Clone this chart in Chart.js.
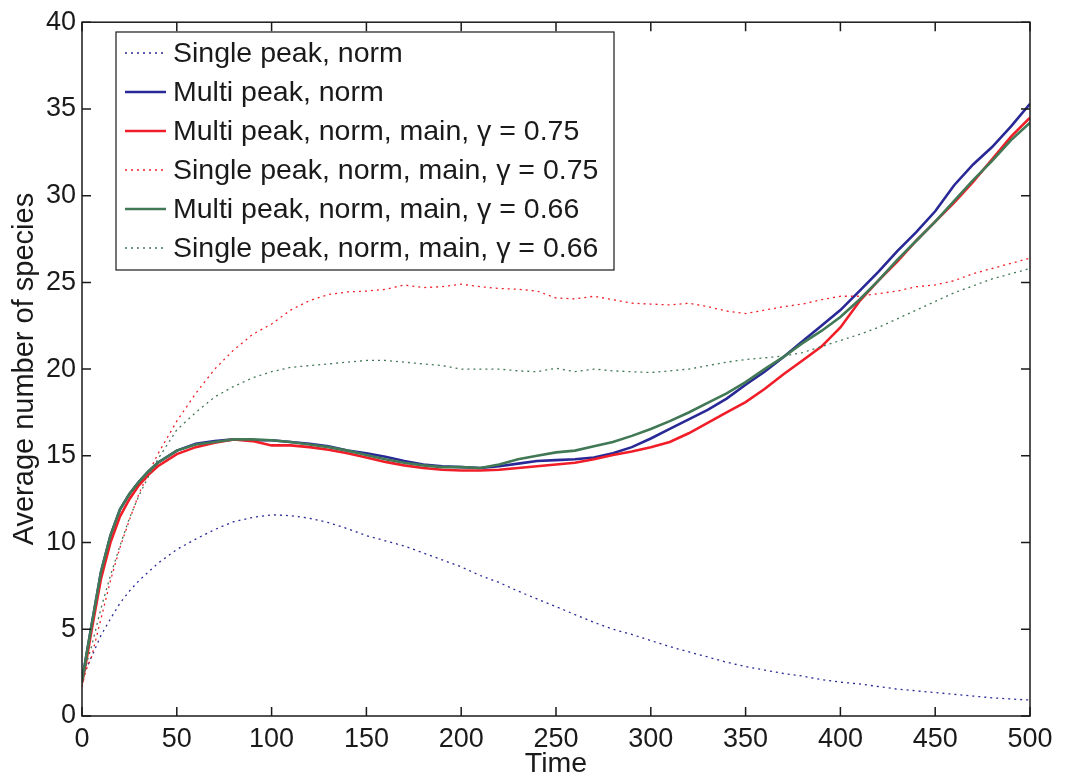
<!DOCTYPE html>
<html>
<head>
<meta charset="utf-8">
<script src="https://cdn.jsdelivr.net/npm/chart.js@4"></script>
<style>
  body { margin: 0; background: #fff; }
  #wrap { width: 1065px; height: 780px; }
</style>
</head>
<body>
<div id="wrap"><canvas id="speciesChart"></canvas></div>
<script>
// time points (x values)
const times = [0, 2, 5, 10, 15, 20, 25, 30, 35, 40, 50, 60, 70, 80, 90, 100, 110, 120, 130, 140, 150,
  160, 170, 180, 190, 200, 210, 220, 230, 240, 250, 260, 270, 280, 290, 300, 310, 320, 330, 340, 350,
  360, 370, 380, 390, 400, 410, 420, 430, 440, 450, 460, 470, 480, 490, 500];

// average number of species
const singleNorm = [2.0, 2.7, 3.4, 4.65, 5.6, 6.5, 7.2, 7.8, 8.3, 8.8, 9.6, 10.2, 10.75, 11.2, 11.45, 11.6,
  11.55, 11.4, 11.15, 10.8, 10.4, 10.1, 9.8, 9.4, 9.0, 8.6, 8.1, 7.7, 7.2, 6.75, 6.3, 5.85, 5.4, 5.0, 4.7,
  4.35, 4.0, 3.7, 3.4, 3.1, 2.85, 2.65, 2.45, 2.3, 2.1, 1.95, 1.85, 1.7, 1.55, 1.45, 1.35, 1.25, 1.15,
  1.05, 0.98, 0.92];
const multiNorm = [2.0, 3.3, 5.2, 8.3, 10.4, 11.9, 12.8, 13.5, 14.1, 14.6, 15.3, 15.7, 15.85, 15.95, 15.9,
  15.9, 15.8, 15.7, 15.55, 15.3, 15.15, 14.95, 14.7, 14.5, 14.4, 14.35, 14.3, 14.4, 14.55, 14.7, 14.75,
  14.8, 14.9, 15.15, 15.5, 16.0, 16.55, 17.1, 17.65, 18.3, 19.1, 19.85, 20.7, 21.6, 22.5, 23.4, 24.5,
  25.6, 26.8, 27.9, 29.1, 30.6, 31.8, 32.8, 34.0, 35.3];
const multiMain75 = [1.9, 3.0, 4.9, 7.9, 10.0, 11.5, 12.5, 13.3, 13.9, 14.4, 15.1, 15.5, 15.75, 15.95,
  15.85, 15.6, 15.6, 15.5, 15.35, 15.15, 14.9, 14.65, 14.45, 14.3, 14.2, 14.15, 14.15, 14.2, 14.3, 14.4,
  14.5, 14.6, 14.8, 15.05, 15.25, 15.5, 15.8, 16.3, 16.9, 17.5, 18.1, 18.85, 19.7, 20.5, 21.3, 22.4,
  23.9, 25.1, 26.2, 27.4, 28.5, 29.6, 30.8, 32.1, 33.4, 34.5];
const singleMain75 = [1.7, 2.6, 3.4, 5.6, 7.8, 9.7, 11.3, 12.8, 14.0, 15.1, 17.0, 18.6, 20.0, 21.1, 22.0,
  22.6, 23.4, 23.95, 24.3, 24.45, 24.5, 24.6, 24.85, 24.7, 24.75, 24.9, 24.75, 24.65, 24.6, 24.5, 24.1,
  24.05, 24.2, 24.0, 23.8, 23.75, 23.7, 23.8, 23.6, 23.35, 23.2, 23.4, 23.6, 23.75, 24.0, 24.2, 24.2,
  24.35, 24.5, 24.75, 24.85, 25.1, 25.5, 25.8, 26.1, 26.4];
const multiMain66 = [2.0, 3.3, 5.2, 8.3, 10.4, 11.9, 12.8, 13.5, 14.1, 14.6, 15.3, 15.65, 15.8, 15.95,
  15.95, 15.9, 15.8, 15.65, 15.5, 15.3, 15.05, 14.8, 14.6, 14.45, 14.35, 14.35, 14.3, 14.5, 14.8, 15.0,
  15.2, 15.3, 15.55, 15.8, 16.15, 16.55, 17.0, 17.5, 18.05, 18.6, 19.25, 20.0, 20.7, 21.5, 22.2, 23.0,
  24.0, 25.1, 26.3, 27.4, 28.5, 29.7, 30.9, 32.0, 33.2, 34.2];
const singleMain66 = [1.9, 2.9, 4.0, 6.2, 8.1, 9.8, 11.4, 12.7, 13.8, 14.8, 16.5, 17.5, 18.4, 19.0, 19.5,
  19.85, 20.1, 20.2, 20.3, 20.4, 20.5, 20.5, 20.4, 20.3, 20.2, 20.0, 20.0, 20.0, 19.9, 19.85, 20.05,
  19.85, 20.0, 19.9, 19.85, 19.8, 19.9, 20.0, 20.2, 20.4, 20.55, 20.65, 20.75, 20.95, 21.3, 21.65, 22.0,
  22.4, 22.9, 23.4, 23.9, 24.4, 24.8, 25.2, 25.5, 25.8];

const seriesLabels = [
  'Single peak, norm',
  'Multi peak, norm',
  'Multi peak, norm, main, \u03b3 = 0.75',
  'Single peak, norm, main, \u03b3 = 0.75',
  'Multi peak, norm, main, \u03b3 = 0.66',
  'Single peak, norm, main, \u03b3 = 0.66'
];
const seriesValues = [singleNorm, multiNorm, multiMain75, singleMain75, multiMain66, singleMain66];

const xTicks = [0, 50, 100, 150, 200, 250, 300, 350, 400, 450, 500];
const yTicks = [0, 5, 10, 15, 20, 25, 30, 35, 40];

const BLUE = 'rgb(40, 40, 150)';
const RED = 'rgb(240, 30, 40)';
const GREEN = 'rgb(65, 120, 85)';
const colors = [BLUE, BLUE, RED, RED, GREEN, GREEN];
const dotted = [true, false, false, true, false, true];

const FONT = '"Liberation Sans", Arial, Helvetica, sans-serif';
const INK = '#1a1a1a';

// MATLAB style box with inward ticks and the legend
const matlabBox = {
  id: 'matlabBox',
  afterDraw(chart) {
    const { ctx, chartArea: a, scales: { x, y } } = chart;
    ctx.save();
    ctx.strokeStyle = INK;
    ctx.lineWidth = 1.5;
    ctx.strokeRect(a.left, a.top, a.right - a.left, a.bottom - a.top);
    ctx.beginPath();
    xTicks.forEach(v => {
      const px = x.getPixelForValue(v);
      ctx.moveTo(px, a.bottom); ctx.lineTo(px, a.bottom - 9);
      ctx.moveTo(px, a.top); ctx.lineTo(px, a.top + 9);
    });
    yTicks.forEach(v => {
      const py = y.getPixelForValue(v);
      ctx.moveTo(a.left, py); ctx.lineTo(a.left + 9, py);
      ctx.moveTo(a.right, py); ctx.lineTo(a.right - 9, py);
    });
    ctx.stroke();

    // legend
    const lx = 116, ly = 32, lw = 498, lh = 238;
    ctx.fillStyle = '#fff';
    ctx.fillRect(lx, ly, lw, lh);
    ctx.lineWidth = 1.2;
    ctx.strokeStyle = INK;
    ctx.strokeRect(lx, ly, lw, lh);
    ctx.font = '28.5px ' + FONT;
    ctx.textBaseline = 'middle';
    ctx.textAlign = 'left';
    chart.data.datasets.forEach((ds, i) => {
      const cy = 53 + i * 39;
      ctx.beginPath();
      ctx.strokeStyle = ds.borderColor;
      ctx.lineWidth = ds.borderWidth;
      ctx.setLineDash(ds.borderDash || []);
      ctx.moveTo(125, cy); ctx.lineTo(166, cy);
      ctx.stroke();
      ctx.setLineDash([]);
      ctx.fillStyle = INK;
      ctx.fillText(ds.label, 173, cy + 1);
    });
    ctx.restore();
  }
};

function createSpeciesChart() {
  const ctx = document.getElementById('speciesChart').getContext('2d');
  const datasets = seriesValues.map((vals, i) => ({
    label: seriesLabels[i],
    data: vals.map((v, j) => ({ x: times[j], y: v })),
    borderColor: colors[i],
    borderWidth: dotted[i] ? 1.3 : 2.6,
    borderDash: dotted[i] ? [2, 4] : [],
    pointRadius: 0,
    tension: 0,
    fill: false,
    order: seriesValues.length - i
  }));

  new Chart(ctx, {
    type: 'line',
    data: { datasets: datasets },
    options: {
      responsive: true,
      maintainAspectRatio: false,
      animation: false,
      layout: { padding: { left: 0, right: 35, top: 21, bottom: 0 } },
      plugins: {
        legend: { display: false },
        tooltip: { enabled: false }
      },
      scales: {
        x: {
          type: 'linear',
          min: 0,
          max: 500,
          afterFit: s => { s.height = 64; },
          afterBuildTicks: s => { s.ticks = xTicks.map(v => ({ value: v })); },
          grid: { display: false, drawTicks: false },
          border: { display: false },
          ticks: { color: INK, padding: 7, maxRotation: 0, font: { family: FONT, size: 27 } },
          title: {
            display: true,
            text: 'Time',
            color: INK,
            padding: { top: 0, bottom: 1.5 },
            font: { family: FONT, size: 28.5, lineHeight: 1 }
          }
        },
        y: {
          min: 0,
          max: 40,
          afterFit: s => { s.width = 82; },
          afterBuildTicks: s => { s.ticks = yTicks.map(v => ({ value: v })); },
          grid: { display: false, drawTicks: false },
          border: { display: false },
          ticks: { color: INK, padding: 6, font: { family: FONT, size: 27 } },
          title: {
            display: true,
            text: 'Average number of species',
            color: INK,
            padding: { top: 10.5, bottom: 0 },
            font: { family: FONT, size: 29, lineHeight: 1 }
          }
        }
      }
    },
    plugins: [matlabBox]
  });
}

window.onload = function() {
  createSpeciesChart();
};
</script>
</body>
</html>
